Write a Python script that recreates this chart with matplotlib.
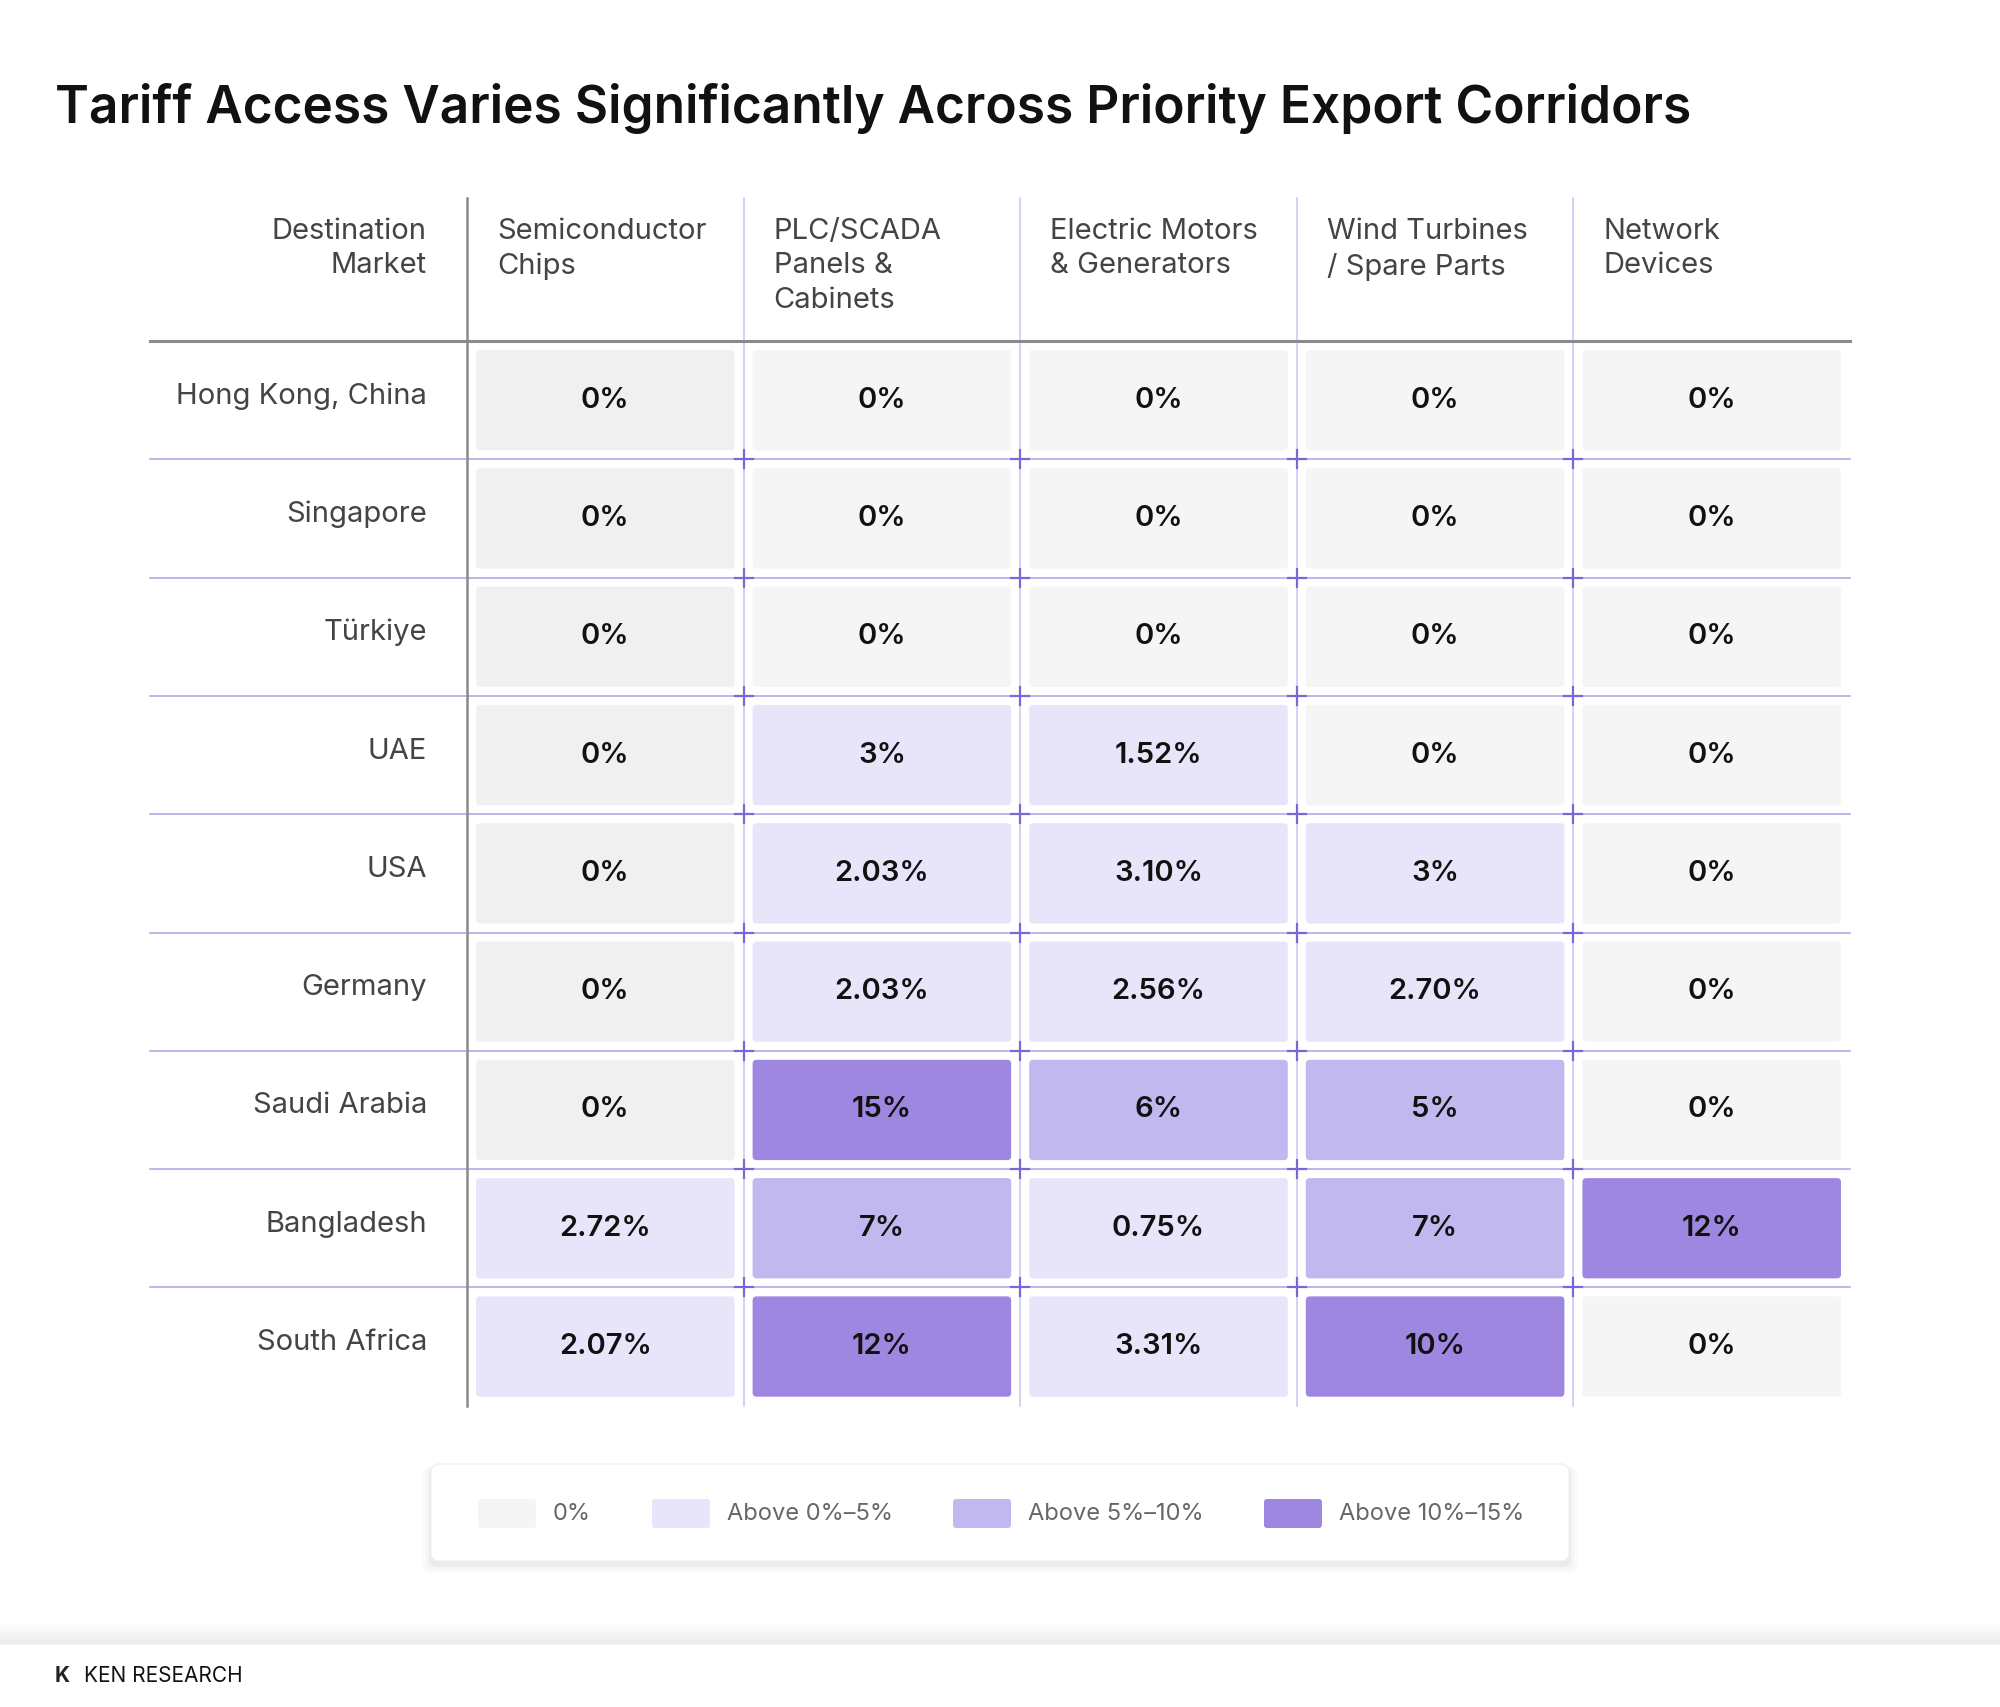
"""Tariff heat table: priority export corridors."""

import matplotlib

matplotlib.use("Agg")

import matplotlib.pyplot as plt
from matplotlib.patches import FancyBboxPatch

plt.rcParams["font.family"] = ["Inter", "DejaVu Sans"]

markets = ["Hong Kong, China", "Singapore", "Türkiye", "UAE", "USA", "Germany",
           "Saudi Arabia", "Bangladesh", "South Africa"]
products = ["Semiconductor\nChips", "PLC/SCADA\nPanels &\nCabinets", "Electric Motors\n& Generators",
            "Wind Turbines\n/ Spare Parts", "Network\nDevices"]
values = [
    [0, 0, 0, 0, 0],
    [0, 0, 0, 0, 0],
    [0, 0, 0, 0, 0],
    [0, 3, 1.52, 0, 0],
    [0, 2.03, 3.10, 3, 0],
    [0, 2.03, 2.56, 2.70, 0],
    [0, 15, 6, 5, 0],
    [2.72, 7, 0.75, 7, 12],
    [2.07, 12, 3.31, 10, 0],
]
labels = [
    ["0%", "0%", "0%", "0%", "0%"],
    ["0%", "0%", "0%", "0%", "0%"],
    ["0%", "0%", "0%", "0%", "0%"],
    ["0%", "3%", "1.52%", "0%", "0%"],
    ["0%", "2.03%", "3.10%", "3%", "0%"],
    ["0%", "2.03%", "2.56%", "2.70%", "0%"],
    ["0%", "15%", "6%", "5%", "0%"],
    ["2.72%", "7%", "0.75%", "7%", "12%"],
    ["2.07%", "12%", "3.31%", "10%", "0%"],
]
legend_labels = ["0%", "Above 0%–5%", "Above 5%–10%", "Above 10%–15%"]
legend_colors = ["#f5f5f5", "#e8e5fa", "#c2b8f0", "#9d87e0"]


def cell_color(v, col):
    if v >= 10:
        return legend_colors[3]
    if v >= 5:
        return legend_colors[2]
    if v > 0:
        return legend_colors[1]
    return "#f0f0f0" if col == 0 else legend_colors[0]


fig = plt.figure(figsize=(20, 17.07), dpi=100)
ax = fig.add_axes([0, 0, 1, 1])
ax.set_xlim(0, 2000)
ax.set_ylim(1707, 0)
ax.axis("off")

ax.text(55, 108, "Tariff Access Varies Significantly Across Priority Export Corridors",
        fontsize=37, fontweight="semibold", va="center", ha="left", color="#111111")

x_left, x_first, x_right = 150, 467, 1850
col_w = (x_right - x_first) / len(products)
y_head_top, y_head, row_h = 198, 341, 118.3
y_bottom = y_head + row_h * len(markets)
purple = "#b8b0ea"

# header
ax.text(x_first - 40, 218, "Destination\nMarket", fontsize=21, color="#444444",
        ha="right", va="top", linespacing=1.35)
for j, p in enumerate(products):
    ax.text(x_first + j * col_w + 30, 218, p, fontsize=21, color="#444444",
            ha="left", va="top", linespacing=1.35)

# cells
pad = 9
for i, m in enumerate(markets):
    y0 = y_head + i * row_h
    ax.text(x_first - 40, y0 + row_h / 2 - 4, m, fontsize=21, color="#444444",
            ha="right", va="center")
    for j in range(len(products)):
        x0 = x_first + j * col_w
        ax.add_patch(FancyBboxPatch((x0 + pad, y0 + pad), col_w - 2 * pad, row_h - 2 * pad,
                                    boxstyle="round,pad=0,rounding_size=4",
                                    fc=cell_color(values[i][j], j), ec="none", zorder=1))
        ax.text(x0 + col_w / 2, y0 + row_h / 2, labels[i][j], fontsize=21,
                fontweight="semibold", color="#111111", ha="center", va="center", zorder=3)

# grid lines
for i in range(1, len(markets)):
    y = y_head + i * row_h
    ax.plot([x_left, x_right], [y, y], color=purple, lw=1.3, zorder=2)
for j in range(1, len(products)):
    x = x_first + j * col_w
    ax.plot([x, x], [y_head_top, y_bottom], color="#cfcaf2", lw=1.2, zorder=2)
    for i in range(1, len(markets)):
        y = y_head + i * row_h
        ax.plot([x - 9, x + 9], [y, y], color="#7a68d8", lw=1.6, zorder=4)
        ax.plot([x, x], [y - 9, y + 9], color="#7a68d8", lw=1.6, zorder=4)
ax.plot([x_first, x_first], [y_head_top, y_bottom], color="#8a8a8a", lw=1.8, zorder=4)
ax.plot([x_left, x_right], [y_head, y_head], color="#8a8a8a", lw=2.2, zorder=4)

# legend box
for k, a in enumerate([0.04, 0.025, 0.015]):
    ax.add_patch(FancyBboxPatch((431 - 2 - k * 3, 1464 + 3), 1138 + 4 + k * 6, 97 + 3 + k * 3,
                                boxstyle="round,pad=0,rounding_size=8", fc="black",
                                alpha=a, ec="none", zorder=5))
ax.add_patch(FancyBboxPatch((431, 1464), 1138, 97, boxstyle="round,pad=0,rounding_size=8",
                            fc="white", ec="#f0f0f0", lw=1, zorder=6))
leg_x = [478, 652, 953, 1264]
for lx, lab, c in zip(leg_x, legend_labels, legend_colors):
    ax.add_patch(FancyBboxPatch((lx, 1499), 58, 29, boxstyle="round,pad=0,rounding_size=3",
                                fc=c, ec="none", zorder=7))
    ax.text(lx + 75, 1514, lab, fontsize=17, color="#666666", ha="left", va="center", zorder=7)

# footer
for k in range(10):
    ax.plot([0, 2000], [1643 - k * 2, 1643 - k * 2], color="black", alpha=0.006 * (10 - k), lw=2)
ax.text(55, 1676, "K", fontsize=15, fontweight="bold", color="#222222", va="center", ha="left")
ax.text(84, 1676, "KEN RESEARCH", fontsize=15, color="#111111", va="center", ha="left")

fig.savefig("out.png", dpi=100)
plt.close(fig)
